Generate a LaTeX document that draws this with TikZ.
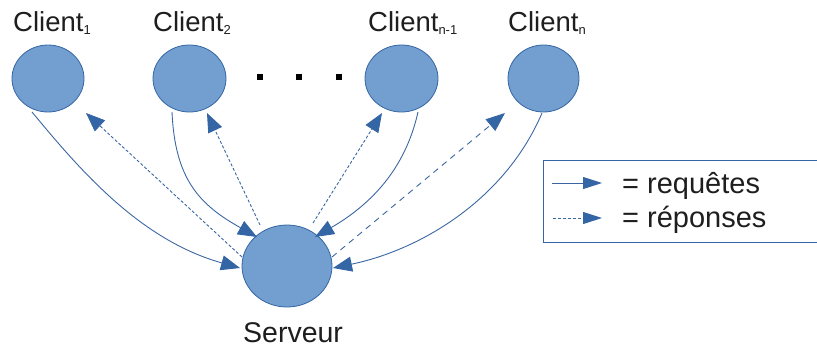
\documentclass[tikz,border=0pt]{standalone}
\usepackage{fontspec}
\setmainfont{Liberation Sans}
\usetikzlibrary{shapes.geometric,arrows.meta,calc}
\definecolor{nodefill}{HTML}{729FCF}
\definecolor{nodeline}{HTML}{3465A4}
\definecolor{wire}{HTML}{3A67A2}
\definecolor{ink}{HTML}{1E1E1E}
\newcommand{\sizedtext}[2]{{\fontsize{#1}{#1}\selectfont #2}}
\newcommand{\lowsub}[1]{\raisebox{-3pt}{\sizedtext{13}{#1}}}
\tikzset{
  host/.style={ellipse, draw=nodeline, line width=0.8pt, fill=nodefill, inner sep=0pt},
  hostlabel/.style={anchor=base west, inner sep=0pt, text=ink, font=\fontsize{27.5}{27.5}\selectfont},
  dotmark/.style={fill=black, inner sep=0pt, minimum size=6pt},
  bighead/.style={-{Triangle[length=19pt,width=15pt,color=nodeline,fill=nodeline]}},
  request/.style={bighead, draw=wire, line width=0.9pt},
  reply/.style={bighead, draw=wire, line width=0.9pt, dash pattern=on 3pt off 2pt},
  longreply/.style={reply, dash pattern=on 6pt off 5pt},
  keytext/.style={anchor=base west, inner sep=0pt, text=ink, font=\fontsize{29}{29}\selectfont},
  keyhead/.style={-{Triangle[length=19pt,width=12pt,color=nodeline,fill=nodeline]}, draw=wire, line width=0.9pt}
}
\begin{document}
\begin{tikzpicture}[x=1pt, y=-1pt]
\useasboundingbox (0,0) rectangle (817,349);

% clients and server
\node[host, minimum width=72pt, minimum height=67pt] (c1) at (48,78.5) {};
\node[host, minimum width=73pt, minimum height=67pt] (c2) at (189.5,78.5) {};
\node[host, minimum width=73pt, minimum height=67pt] (c3) at (401.5,78.5) {};
\node[host, minimum width=71pt, minimum height=67pt] (c4) at (543.5,78.5) {};
\node[host, minimum width=90pt, minimum height=82pt] (srv) at (287,266) {};

% labels
\node[hostlabel] (l1) at (13,31) {Client\lowsub{1}};
\node[hostlabel] (l2) at (153,31) {Client\lowsub{2}};
\node[hostlabel] (l3) at (368,31) {Client\lowsub{n-1}};
\node[hostlabel] (l4) at (508,31) {Client\lowsub{n}};
\node[anchor=base west, inner sep=0pt, text=ink, font=\fontsize{28.5}{28.5}\selectfont] (ls) at (243,342) {Serveur};

% ellipsis between the clients
\node[dotmark] (d1) at (260,76.5) {};
\node[dotmark] (d2) at (299,76.5) {};
\node[dotmark] (d3) at (339,76.5) {};

% requests: client -> server
\draw[request] ($(c1)+(-16,33.5)$) .. controls (80,170) and (140,240) .. ($(srv)+(-47,2)$);
\draw[request] ($(c2)+(-17.5,33.5)$) .. controls (175,180) and (200,205) .. ($(srv)+(-30,-29)$);
\draw[request] ($(c3)+(16.5,33.5)$) .. controls (405,170) and (370,205) .. ($(srv)+(28,-29)$);
\draw[request] ($(c4)+(-1.5,34.5)$) .. controls (505,200) and (420,250) .. ($(srv)+(46,2)$);

% responses: server -> client
\draw[reply] ($(srv)+(-45,-9)$) -- ($(c1)+(38,34.5)$);
\draw[reply] ($(srv)+(-27,-41)$) -- ($(c2)+(17.5,34.5)$);
\draw[reply] ($(srv)+(26,-43)$) -- ($(c3)+(-19.5,34.5)$);
\draw[longreply] ($(srv)+(45,-9)$) -- ($(c4)+(-38.5,34.5)$);

% legend
\node[draw=nodeline, line width=1.2pt, anchor=north west, minimum width=300pt, minimum height=82pt, inner sep=0pt] (key) at (543,160) {};
\coordinate (ka0) at (552,183);
\coordinate (ka1) at (602,183);
\coordinate (kb0) at (553,218);
\coordinate (kb1) at (602,218);
\draw[keyhead] (ka0) -- (ka1);
\draw[keyhead, dash pattern=on 3pt off 2pt] (kb0) -- (kb1);
\node[keytext] (k1) at (622,193) {= requêtes};
\node[keytext] (k2) at (622,227) {= réponses};
\end{tikzpicture}
\end{document}
